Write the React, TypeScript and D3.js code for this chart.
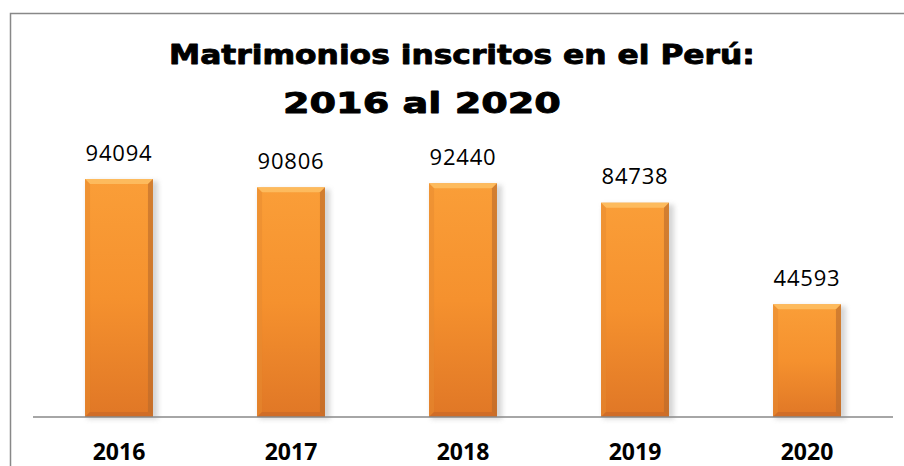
import React, { useLayoutEffect, useRef } from "react";
import * as d3 from "d3";

const categories = ["2016", "2017", "2018", "2019", "2020"];
const values = [94094, 90806, 92440, 84738, 44593];
const titleLines = ["Matrimonios inscritos en el Perú:", "2016 al 2020"];

const W = 904;
const H = 466;
const baseY = 417;

// title boxes: left, right, baseline, font size
const titleBoxes = [
  { l: 169, r: 755, y: 64, fs: 27 },
  { l: 283, r: 561, y: 113, fs: 29 },
];

export default function App() {
  const titleRef = useRef<SVGGElement>(null);
  const x = d3
    .scaleBand<string>()
    .domain(categories)
    .range([33, 893])
    .paddingInner(0.605)
    .paddingOuter(0.3025);
  const y = d3.scaleLinear().domain([0, 100000]).range([baseY, baseY - 252.9]);
  const bw = x.bandwidth();
  const bev = 5;

  useLayoutEffect(() => {
    if (!titleRef.current) return;
    d3.select(titleRef.current)
      .selectAll<SVGTextElement, unknown>("text")
      .each(function (_, i) {
        const b = titleBoxes[i];
        const w = this.getComputedTextLength();
        const sx = (b.r - b.l) / w;
        d3.select(this).attr("transform", `translate(${b.l},${b.y}) scale(${sx},1)`);
      });
  }, []);

  return (
    <svg
      width={W}
      height={H}
      style={{ position: "absolute", left: 0, top: 0, background: "#fff" }}
    >
      <defs>
        <linearGradient id="barG" x1="0" y1="0" x2="0" y2="1">
          <stop offset="0%" stopColor="#FA9E38" />
          <stop offset="50%" stopColor="#F5912E" />
          <stop offset="100%" stopColor="#E07726" />
        </linearGradient>
        <filter id="shadow" x="-20%" y="-10%" width="140%" height="120%">
          <feGaussianBlur stdDeviation="2.5" />
        </filter>
      </defs>
      <rect x={10.5} y={13.5} width={W} height={H} fill="#fff" stroke="#888" strokeWidth={1.5} />
      <g
        ref={titleRef}
        fontFamily="'DejaVu Sans', sans-serif"
        fontWeight="bold"
        fill="#000"
        stroke="#000"
        strokeWidth={0.9}
        strokeLinejoin="round"
      >
        {titleLines.map((t, i) => (
          <text
            key={i}
            x={0}
            y={0}
            fontSize={titleBoxes[i].fs}
            transform={`translate(${titleBoxes[i].l},${titleBoxes[i].y})`}
          >
            {t}
          </text>
        ))}
      </g>
      {categories.map((c, i) => {
        const x0 = x(c)!;
        const yt = y(values[i]);
        const h = baseY - yt;
        return (
          <g key={c}>
            <rect x={x0 + 2} y={yt + 2} width={bw + 3} height={h} fill="#999" opacity={0.4} filter="url(#shadow)" />
            <rect x={x0} y={yt} width={bw} height={h} fill="url(#barG)" />
            <polygon
              points={`${x0},${yt} ${x0 + bw},${yt} ${x0 + bw - bev},${yt + bev} ${x0 + bev},${yt + bev}`}
              fill="#FDBE62"
              opacity={0.9}
            />
            <polygon
              points={`${x0},${yt} ${x0 + bev},${yt + bev} ${x0 + bev},${baseY - bev} ${x0},${baseY}`}
              fill="#E58A30"
              opacity={0.5}
            />
            <polygon
              points={`${x0 + bw},${yt} ${x0 + bw - bev},${yt + bev} ${x0 + bw - bev},${baseY - bev} ${x0 + bw},${baseY}`}
              fill="#B8692C"
              opacity={0.6}
            />
            <polygon
              points={`${x0},${baseY} ${x0 + bev},${baseY - bev} ${x0 + bw - bev},${baseY - bev} ${x0 + bw},${baseY}`}
              fill="#C46628"
              opacity={0.6}
            />
            <text
              x={x0 + bw / 2}
              y={yt - 18.5}
              textAnchor="middle"
              fontFamily="'Open Sans', sans-serif"
              fontSize={22}
              letterSpacing={0.8}
              fill="#000"
            >
              {values[i]}
            </text>
            <text
              x={x0 + bw / 2}
              y={460}
              textAnchor="middle"
              fontFamily="'Open Sans', sans-serif"
              fontWeight="bold"
              fontSize={23}
              fill="#000"
            >
              {c}
            </text>
          </g>
        );
      })}
      <line x1={33} x2={893} y1={baseY} y2={baseY} stroke="#888" strokeWidth={1.5} />
    </svg>
  );
}
